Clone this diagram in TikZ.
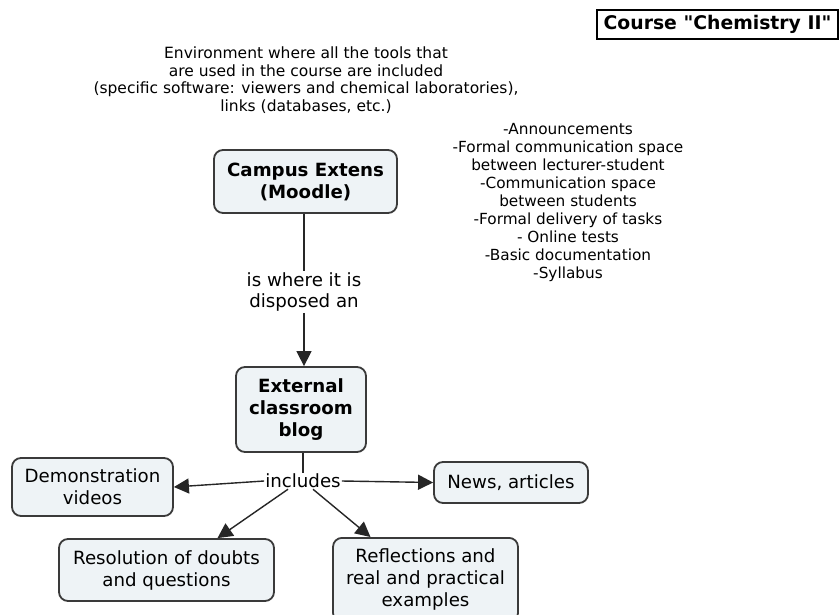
\documentclass[tikz,border=0pt]{standalone}
\usepackage{fontspec}
\setmainfont{DejaVu Sans}[Ligatures=TeXOff]
\usetikzlibrary{arrows.meta}
\definecolor{boxfill}{HTML}{EEF3F6}
\definecolor{boxline}{HTML}{3A3A3A}
\begin{document}
\begin{tikzpicture}[x=1pt,y=-1pt,
  concept/.style={draw=boxline,line width=1.8pt,fill=boxfill,rounded corners=9pt,
    align=center,inner sep=0pt,font=\fontsize{18.2}{22}\selectfont},
  bconcept/.style={concept,font=\fontsize{18.2}{22}\selectfont\bfseries},
  linklabel/.style={align=center,inner sep=1pt,font=\fontsize{18.2}{21.5}\selectfont},
  note/.style={align=center,inner sep=0pt},
  link/.style={line width=1.4pt,draw=black!85},
  arr/.style={link,-{Triangle[length=15pt,width=15pt]}}]
\useasboundingbox (0,0) rectangle (839,614);
\fill[white] (0,0) rectangle (839,614);

\node[draw,line width=1.5pt,minimum width=241pt,minimum height=29pt,inner sep=0pt,
  font=\fontsize{18.8}{20}\selectfont\bfseries] (title) at (717.5,24.5) {Course "Chemistry II"};

\node[note,font=\fontsize{15.5}{17.5}\selectfont] (envnote) at (306,80) {Environment where all the tools that\\are used in the course are included\\(specific software: viewers and chemical laboratories),\\links (databases, etc.)};

\node[note,font=\fontsize{15.3}{18.1}\selectfont] (toolnote) at (568,202.5) {-Announcements\\-Formal communication space\\between lecturer-student\\-Communication space\\between students\\-Formal delivery of tasks\\- Online tests\\-Basic documentation\\-Syllabus};

\node[bconcept,minimum width=183pt,minimum height=63pt] (campus) at (305.5,181.5) {Campus Extens\\(Moodle)};
\node[linklabel] (where) at (304,292) {is where it is\\disposed an};
\node[bconcept,minimum width=130pt,minimum height=85pt] (blog) at (301,409.5) {External\\classroom\\blog};
\node[linklabel] (includes) at (303,481) {includes};

\node[concept,minimum width=161pt,minimum height=58pt] (demo) at (92.5,487) {Demonstration\\videos};
\node[concept,minimum width=154pt,minimum height=41pt] (news) at (511,482.5) {News, articles};
\node[concept,minimum width=215pt,minimum height=62pt] (resol) at (166.5,570) {Resolution of doubts\\and questions};
\node[concept,minimum width=185pt,minimum height=84pt,anchor=north] (refl) at (425.5,537) {Reflections and\\real and practical\\examples};

\draw[link] (where.north |- campus.south) -- (where.north);
\draw[arr] (where.south) -- (where.south |- blog.north);
\draw[link] (includes.north |- blog.south) -- (includes.north);
\draw[arr] (includes.west) -- (demo.east);
\draw[arr] (includes.east) -- (news.west);
\draw[arr] ([xshift=-15pt]includes.south) -- ([xshift=51pt]resol.north);
\draw[arr] ([xshift=10pt]includes.south) -- ([xshift=-55pt]refl.north);
\end{tikzpicture}
\end{document}
